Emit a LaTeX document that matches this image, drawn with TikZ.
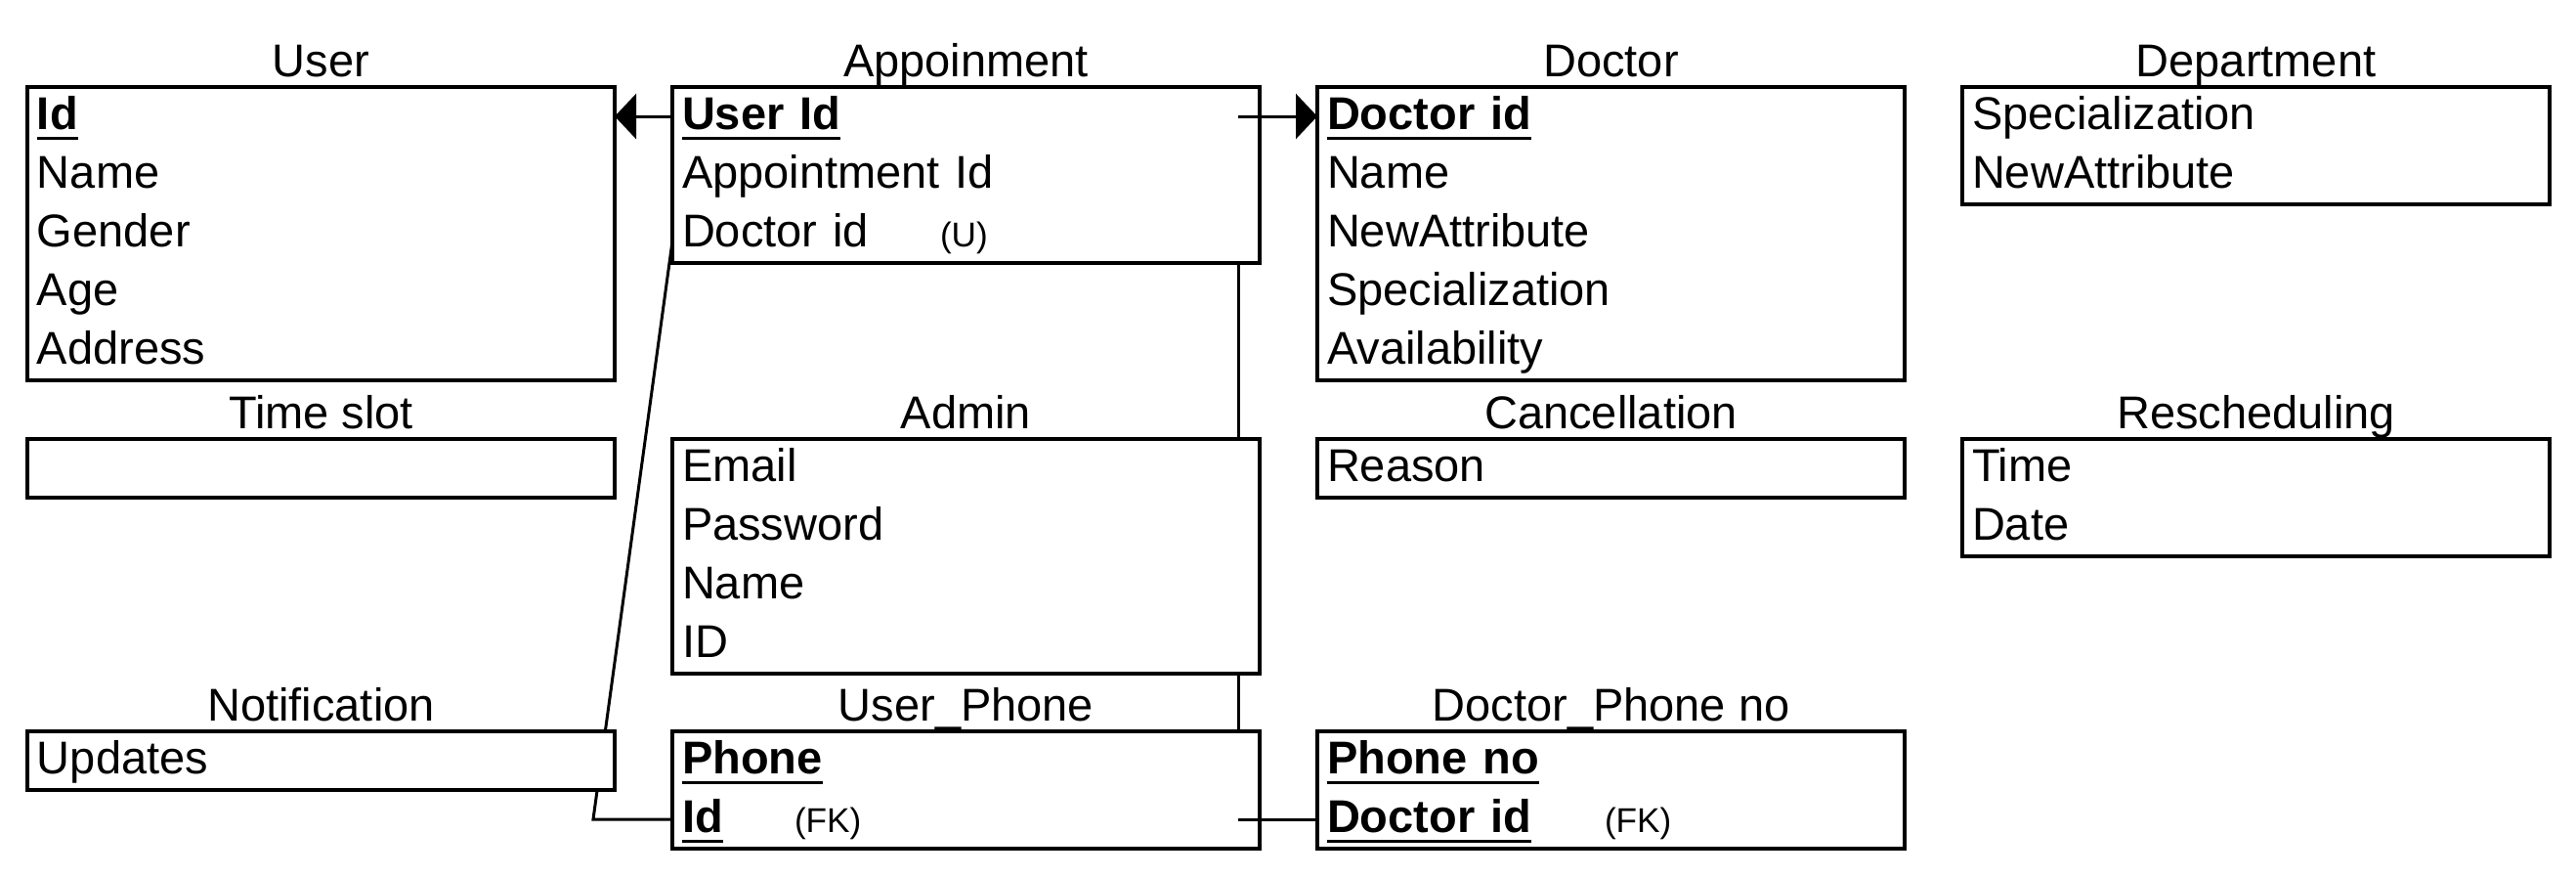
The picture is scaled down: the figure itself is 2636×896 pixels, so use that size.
\documentclass[tikz,border=0pt]{standalone}
\usepackage{fontspec}
\setmainfont{Liberation Sans}
\usetikzlibrary{calc,arrows.meta}

\pgfdeclarelayer{paper}
\pgfdeclarelayer{behind}
\pgfsetlayers{paper,behind,main}

% primary-key attribute: bold with a heavy underline
\newcommand\pkey[1]{\setbox0=\hbox{\bfseries #1}\rlap{\rule[-5.25pt]{\wd0}{1.5pt}}\box0}
\newcommand\notefont{\fontsize{17.6pt}{20pt}\selectfont}

\tikzset{
  entity/.style={draw, line width=1.7pt, fill=white, minimum width=300.5pt,
    inner sep=0pt, outer sep=0pt},
  entitle/.style={anchor=base, inner sep=0pt},
  attrow/.style={anchor=north west, inner xsep=5pt, inner ysep=0pt,
    text width=290.5pt, align=left, minimum height=30pt,
    text height=21.5pt, text depth=8.5pt, outer sep=0pt},
  link/.style={line width=1.5pt},
  fk/.style={link, -{Triangle[length=11pt,width=23pt]}},
}

% table: name, x, y, title, number of rows, row texts
\newcommand\ertable[6]{%
  \node[entity, minimum height=#5*30pt, anchor=north west] (#1) at (#2,#3) {};
  \node[entitle] (#1-t) at ($(#1.north)+(0,-11)$) {#4};
  \foreach \rt [count=\ri] in {#6} {
    \node[attrow] (#1-\ri) at ($(#1.north west)+(0,{60*(\ri-1)})$) {\rt};
  }%
}

\begin{document}
\begin{tikzpicture}[x=0.5pt,y=-0.5pt,font=\fontsize{23.5pt}{28pt}\selectfont]
\useasboundingbox (0,0) rectangle (2636,896);
\begin{pgfonlayer}{paper}
  \fill[white] (0,0) rectangle (2636,896);
\end{pgfonlayer}

% first tier
\ertable{user}{28}{89}{User}{5}{\pkey{Id}, Name, Gender, Age, Address}
\ertable{appt}{688}{89}{Appoinment}{3}{\pkey{User Id}, Appointment Id,
  {\makebox[132pt][l]{Doctor id}{\notefont (U)}}}
\ertable{doc}{1348}{89}{Doctor}{5}{\pkey{Doctor id}, Name, NewAttribute,
  Specialization, Availability}
\ertable{dept}{2008}{89}{Department}{2}{Specialization, NewAttribute}

% second tier
\ertable{slot}{28}{449}{Time slot}{1}{{}}
\ertable{admin}{688}{449}{Admin}{4}{Email, Password, Name, ID}
\ertable{canc}{1348}{449}{Cancellation}{1}{Reason}
\ertable{resch}{2008}{449}{Rescheduling}{2}{Time, Date}

% third tier
\ertable{notif}{28}{748}{Notification}{1}{Updates}
\ertable{uphone}{688}{748}{User\_Phone}{2}{\pkey{Phone},
  {\makebox[57.5pt][l]{\pkey{Id}}{\notefont (FK)}}}
\ertable{dphone}{1348}{748}{Doctor\_Phone no}{2}{\pkey{Phone no},
  {\makebox[142pt][l]{\pkey{Doctor id}}{\notefont (FK)}}}

% routing points
\coordinate (trunktop) at ($(appt-1.east)+(-22,0)$);
\coordinate (trunkbot) at ($(uphone-2.east)+(-22,0)$);
\coordinate (apptlow) at ($(appt.south west)+(0,-22)$);
\coordinate (bend) at ($(uphone-2.west)+(-81,0)$);

% connectors that pass behind the tables
\begin{pgfonlayer}{behind}
  \draw[link] (trunktop) -- (trunkbot);
  \draw[link] (apptlow) -- (bend) -- (uphone-2.west);
\end{pgfonlayer}

% connectors in front
\draw[fk] (appt-1.west) -- (user-1.east);
\draw[fk] (trunktop) -- (doc-1.west);
\draw[link] (trunkbot) -- (dphone-2.west);
\end{tikzpicture}
\end{document}
